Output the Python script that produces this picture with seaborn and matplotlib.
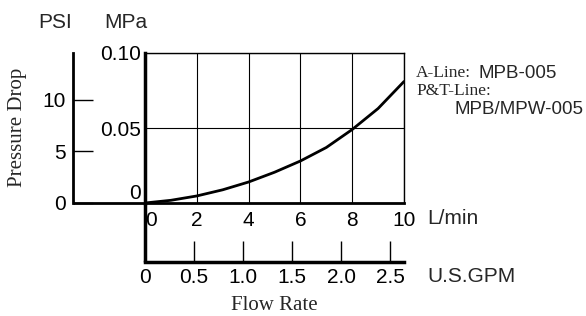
import matplotlib
matplotlib.use("Agg")
import matplotlib.pyplot as plt
import seaborn as sns

# data
flow_lpm = [0, 1, 2, 3, 4, 5, 6, 7, 8, 9, 10]
drop_mpa = [0, 0.0018, 0.0047, 0.0088, 0.014, 0.0205, 0.028, 0.037, 0.049, 0.063, 0.081]

lpm_ticks = [0, 2, 4, 6, 8, 10]
mpa_ticks = [0, 0.05, 0.10]
mpa_labels = ["0", "0.05", "0.10"]
psi_ticks = [0, 5, 10]
gpm_ticks = [0, 0.5, 1.0, 1.5, 2.0, 2.5]
gpm_labels = ["0", "0.5", "1.0", "1.5", "2.0", "2.5"]

sns.set_style("white")
plt.rcParams["font.family"] = ["Liberation Sans", "DejaVu Sans"]
SERIF = ["Liberation Serif", "DejaVu Serif"]
FS = 15

fig = plt.figure(figsize=(5.86, 3.16), dpi=100)
ax = fig.add_axes([145 / 586, 1 - 203 / 316, 259 / 586, 150 / 316])

sns.lineplot(x=flow_lpm, y=drop_mpa, ax=ax, color="black", lw=2)
ax.set_xlim(0, 10)
ax.set_ylim(0, 0.1)

ax.set_xticks(lpm_ticks)
ax.set_yticks(mpa_ticks, labels=mpa_labels)
ax.tick_params(axis="both", length=0, labelsize=FS, colors="black")
ax.tick_params(axis="x", pad=6)
ax.tick_params(axis="y", pad=3)
ax.grid(True, color="black", lw=0.8)

for s in ["top", "right"]:
    ax.spines[s].set_linewidth(1)
    ax.spines[s].set_color("black")
ax.spines["left"].set_linewidth(2.5)
ax.spines["bottom"].set_linewidth(2)
ax.spines["left"].set_color("black")
ax.spines["bottom"].set_color("black")

# first tick labels nudged off the corner
ax.xaxis.get_major_ticks()[0].label1.set_horizontalalignment("left")
ax.yaxis.get_major_ticks()[0].label1.set_verticalalignment("bottom")

# left spine runs down to the GPM axis, bottom spine runs left to PSI axis
psi_loc = (73 - 145) / 259
gpm_loc = -(262 - 203) / 150
ax.plot([0, 0], [gpm_loc, 0], transform=ax.transAxes, clip_on=False,
        color="black", lw=2.5, solid_capstyle="butt")
ax.plot([psi_loc, 0], [0, 0], transform=ax.transAxes, clip_on=False,
        color="black", lw=2, solid_capstyle="butt")

# PSI axis
psi = ax.secondary_yaxis(psi_loc, functions=(lambda m: m * 145.04, lambda p: p / 145.04))
psi.set_yticks(psi_ticks)
psi.tick_params(direction="in", length=14.5, width=1, labelsize=FS, pad=5, colors="black")
psi.spines["left"].set_linewidth(2)
psi.spines["left"].set_color("black")

# U.S.GPM axis
gpm = ax.secondary_xaxis(gpm_loc, functions=(lambda l: l / 3.785, lambda g: g * 3.785))
gpm.set_xticks(gpm_ticks, labels=gpm_labels)
gpm.tick_params(direction="in", length=15, width=1, labelsize=FS, pad=4, colors="black")
gpm.spines["bottom"].set_linewidth(2.5)
gpm.spines["bottom"].set_color("black")

W, H = 586, 316
fig.text(55 / W, 1 - 22 / H, "PSI", fontsize=FS, ha="center", va="center")
fig.text(126 / W, 1 - 22 / H, "MPa", fontsize=FS, ha="center", va="center")
fig.text(427 / W, 1 - 219 / H, "L/min", fontsize=FS, ha="left", va="center")
fig.text(427 / W, 1 - 276 / H, "U.S.GPM", fontsize=FS, ha="left", va="center")
fig.text(274 / W, 1 - 306 / H, "Flow Rate", fontsize=15, family=SERIF, ha="center", va="center")
fig.text(18 / W, 1 - 127 / H, "Pressure Drop", fontsize=15, family=SERIF,
         rotation=90, ha="center", va="center")

fig.text(416 / W, 1 - 73 / H, "A-Line:", fontsize=12.5, family=SERIF, ha="left", va="center")
fig.text(478 / W, 1 - 73 / H, "MPB-005", fontsize=13.5, ha="left", va="center")
fig.text(416 / W, 1 - 91 / H, "P&T-Line:", fontsize=12.5, family=SERIF, ha="left", va="center")
fig.text(455 / W, 1 - 109 / H, "MPB/MPW-005", fontsize=13.5, ha="left", va="center")

fig.savefig("out.png", dpi=100)
